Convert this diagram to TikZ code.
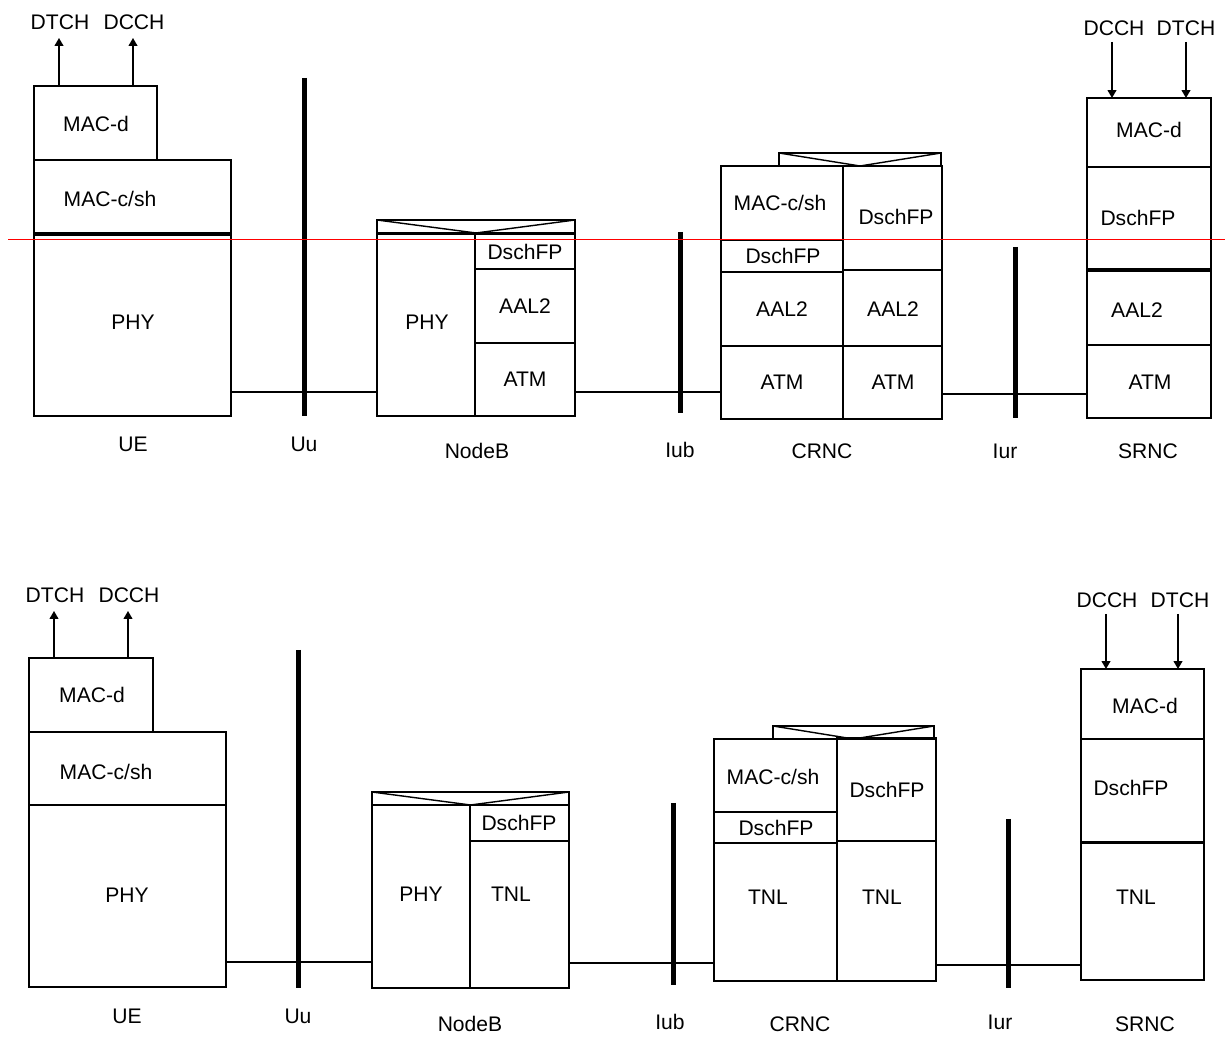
\documentclass[tikz,border=0pt]{standalone}
\usepackage{fontspec}
\setmainfont{Liberation Sans}
\usetikzlibrary{arrows.meta}
\newcommand\blk[8]{%
  \node[blk, minimum width={(#4-#2)*0.02cm}, minimum height={(#5-#3)*0.02cm}] (#1) at ({(#2+#4)/2},{(#3+#5)/2}) {};
  \node[txt] (#1-t) at (#6,#7) {#8};}
\newcommand\strip[5]{%
  \node[blk, minimum width={(#4-#2)*0.02cm}, minimum height={(#5-#3)*0.02cm}] (#1) at ({(#2+#4)/2},{(#3+#5)/2}) {};
  \draw[thin line] (#1.north west) -- (#1.south) -- (#1.north east);}
\begin{document}
\begin{tikzpicture}[x=0.02cm,y=-0.02cm,
  font=\fontsize{12}{14}\selectfont,
  blk/.style={draw, line width=0.8pt, inner sep=0, outer sep=0},
  thin line/.style={line width=0.8pt},
  txt/.style={inner sep=0, text height=8.6pt, text depth=0pt},
  bar/.style={line width=0.1cm},
  link/.style={line width=0.8pt},
  arr/.style={line width=0.8pt, -{Triangle[length=4.5pt,width=5pt]}}]
\useasboundingbox (0,0) rectangle (1225,1043);

% ===================== TOP DIAGRAM =====================
% UE
\blk{uMd}{34}{86}{157}{160}{96}{124}{MAC-d}
\blk{uMc}{34}{160}{231}{233}{110}{199}{MAC-c/sh}
\blk{uPhy}{34}{235}{231}{416}{133}{322}{PHY}
\node[txt] (uDtch) at (60,22) {DTCH};
\node[txt] (uDcch) at (134,22) {DCCH};
\coordinate (ua1) at (59,38);
\coordinate (ua2) at (133,38);
\draw[arr] (uMd.north -| ua1) -- (ua1);
\draw[arr] (uMd.north -| ua2) -- (ua2);
\node[txt] (uLbl) at (133,444) {UE};

% Uu
\coordinate (uuT) at (304,78);
\coordinate (uuB) at (304,416);
\draw[bar] (uuT) -- (uuB);
\node[txt] (uuLbl) at (304,444) {Uu};

% NodeB
\strip{nStrip}{377}{220}{575}{233}
\blk{nPhy}{377}{234}{475}{416}{427}{322}{PHY}
\blk{nDs}{475}{234}{575}{269}{525}{252}{DschFP}
\blk{nAal}{475}{269}{575}{343}{525}{306}{AAL2}
\blk{nAtm}{475}{343}{575}{416}{525}{379}{ATM}
\node[txt] (nLbl) at (477,451) {NodeB};

\coordinate (ya) at (0,392);
\draw[link] (uPhy.east |- ya) -- (nPhy.west |- ya);

% Iub
\coordinate (ibT) at (680,232);
\coordinate (ibB) at (680,413);
\draw[bar] (ibT) -- (ibB);
\node[txt] (ibLbl) at (680,450) {Iub};

% CRNC
\strip{cStrip}{779}{153}{941}{166}
\blk{cMc}{721}{166}{843}{240}{780}{203}{MAC-c/sh}
\blk{cDsL}{721}{240}{843}{272}{783}{256}{DschFP}
\blk{cAalL}{721}{272}{843}{346}{782}{309}{AAL2}
\blk{cAtmL}{721}{346}{843}{419}{782}{382}{ATM}
\blk{cDsR}{843}{166}{942}{270}{896}{217}{DschFP}
\blk{cAalR}{843}{270}{942}{346}{893}{309}{AAL2}
\blk{cAtmR}{843}{346}{942}{419}{893}{382}{ATM}
\node[txt] (cLbl) at (822,451) {CRNC};

\draw[link] (nAtm.east |- ya) -- (cAtmL.west |- ya);

% Iur
\coordinate (irT) at (1015,247);
\coordinate (irB) at (1015,418);
\draw[bar] (irT) -- (irB);
\node[txt] (irLbl) at (1005,451) {Iur};

% SRNC
\blk{sMd}{1087}{98}{1211}{167}{1149}{130}{MAC-d}
\blk{sDs}{1087}{167}{1211}{269}{1138}{218}{DschFP}
\blk{sAal}{1087}{271}{1211}{345}{1137}{310}{AAL2}
\blk{sAtm}{1087}{345}{1211}{418}{1150}{382}{ATM}
\node[txt] (sDcch) at (1114,28) {DCCH};
\node[txt] (sDtch) at (1186,28) {DTCH};
\coordinate (sa1) at (1112,42);
\coordinate (sa2) at (1186,42);
\draw[arr] (sa1) -- (sMd.north -| sa1);
\draw[arr] (sa2) -- (sMd.north -| sa2);
\node[txt] (sLbl) at (1148,451) {SRNC};

\coordinate (yb) at (0,394);
\draw[link] (cAtmR.east |- yb) -- (sAtm.west |- yb);

% horizontal reference line
\coordinate (hl1) at (8,239);
\coordinate (hl2) at (1225,239);
\draw[red, line width=0.5pt] (hl1) -- (hl2);

% ===================== BOTTOM DIAGRAM =====================
% UE
\blk{bMd}{29}{658}{153}{732}{92}{695}{MAC-d}
\blk{bMc}{29}{732}{226}{805}{106}{772}{MAC-c/sh}
\blk{bPhy}{29}{805}{226}{987}{127}{895}{PHY}
\node[txt] (bDtch) at (55,595) {DTCH};
\node[txt] (bDcch) at (129,595) {DCCH};
\coordinate (ba1) at (54,611);
\coordinate (ba2) at (128,611);
\draw[arr] (bMd.north -| ba1) -- (ba1);
\draw[arr] (bMd.north -| ba2) -- (ba2);
\node[txt] (bLbl) at (127,1016) {UE};

% Uu
\coordinate (buT) at (298,650);
\coordinate (buB) at (298,988);
\draw[bar] (buT) -- (buB);
\node[txt] (buLbl) at (298,1016) {Uu};

% NodeB
\strip{bnStrip}{372}{792}{569}{805}
\blk{bnPhy}{372}{805}{470}{988}{421}{894}{PHY}
\blk{bnDs}{470}{805}{569}{841}{519}{823}{DschFP}
\blk{bnTnl}{470}{841}{569}{988}{511}{894}{TNL}
\node[txt] (bnLbl) at (470,1024) {NodeB};

\coordinate (yc) at (0,962);
\draw[link] (bPhy.east |- yc) -- (bnPhy.west |- yc);

% Iub
\coordinate (bibT) at (673,803);
\coordinate (bibB) at (673,985);
\draw[bar] (bibT) -- (bibB);
\node[txt] (bibLbl) at (670,1022) {Iub};

% CRNC
\strip{bcStrip}{773}{726}{934}{739}
\blk{bcMc}{714}{739}{837}{812}{773}{777}{MAC-c/sh}
\blk{bcDsL}{714}{812}{837}{843}{776}{828}{DschFP}
\blk{bcTnlL}{714}{843}{837}{981}{768}{897}{TNL}
\blk{bcDsR}{837}{738}{936}{841}{887}{790}{DschFP}
\blk{bcTnlR}{837}{841}{936}{981}{882}{897}{TNL}
\node[txt] (bcLbl) at (800,1024) {CRNC};

\coordinate (yd) at (0,963);
\draw[link] (bnTnl.east |- yd) -- (bcTnlL.west |- yd);

% Iur
\coordinate (birT) at (1008,819);
\coordinate (birB) at (1008,988);
\draw[bar] (birT) -- (birB);
\node[txt] (birLbl) at (1000,1022) {Iur};

% SRNC
\blk{bsMd}{1081}{669}{1204}{739}{1145}{706}{MAC-d}
\blk{bsDs}{1081}{739}{1204}{842}{1131}{788}{DschFP}
\blk{bsTnl}{1081}{843}{1204}{980}{1136}{897}{TNL}
\node[txt] (bsDcch) at (1107,600) {DCCH};
\node[txt] (bsDtch) at (1180,600) {DTCH};
\coordinate (bsa1) at (1106,614);
\coordinate (bsa2) at (1178,614);
\draw[arr] (bsa1) -- (bsMd.north -| bsa1);
\draw[arr] (bsa2) -- (bsMd.north -| bsa2);
\node[txt] (bsLbl) at (1145,1024) {SRNC};

\coordinate (ye) at (0,965);
\draw[link] (bcTnlR.east |- ye) -- (bsTnl.west |- ye);
\end{tikzpicture}
\end{document}
